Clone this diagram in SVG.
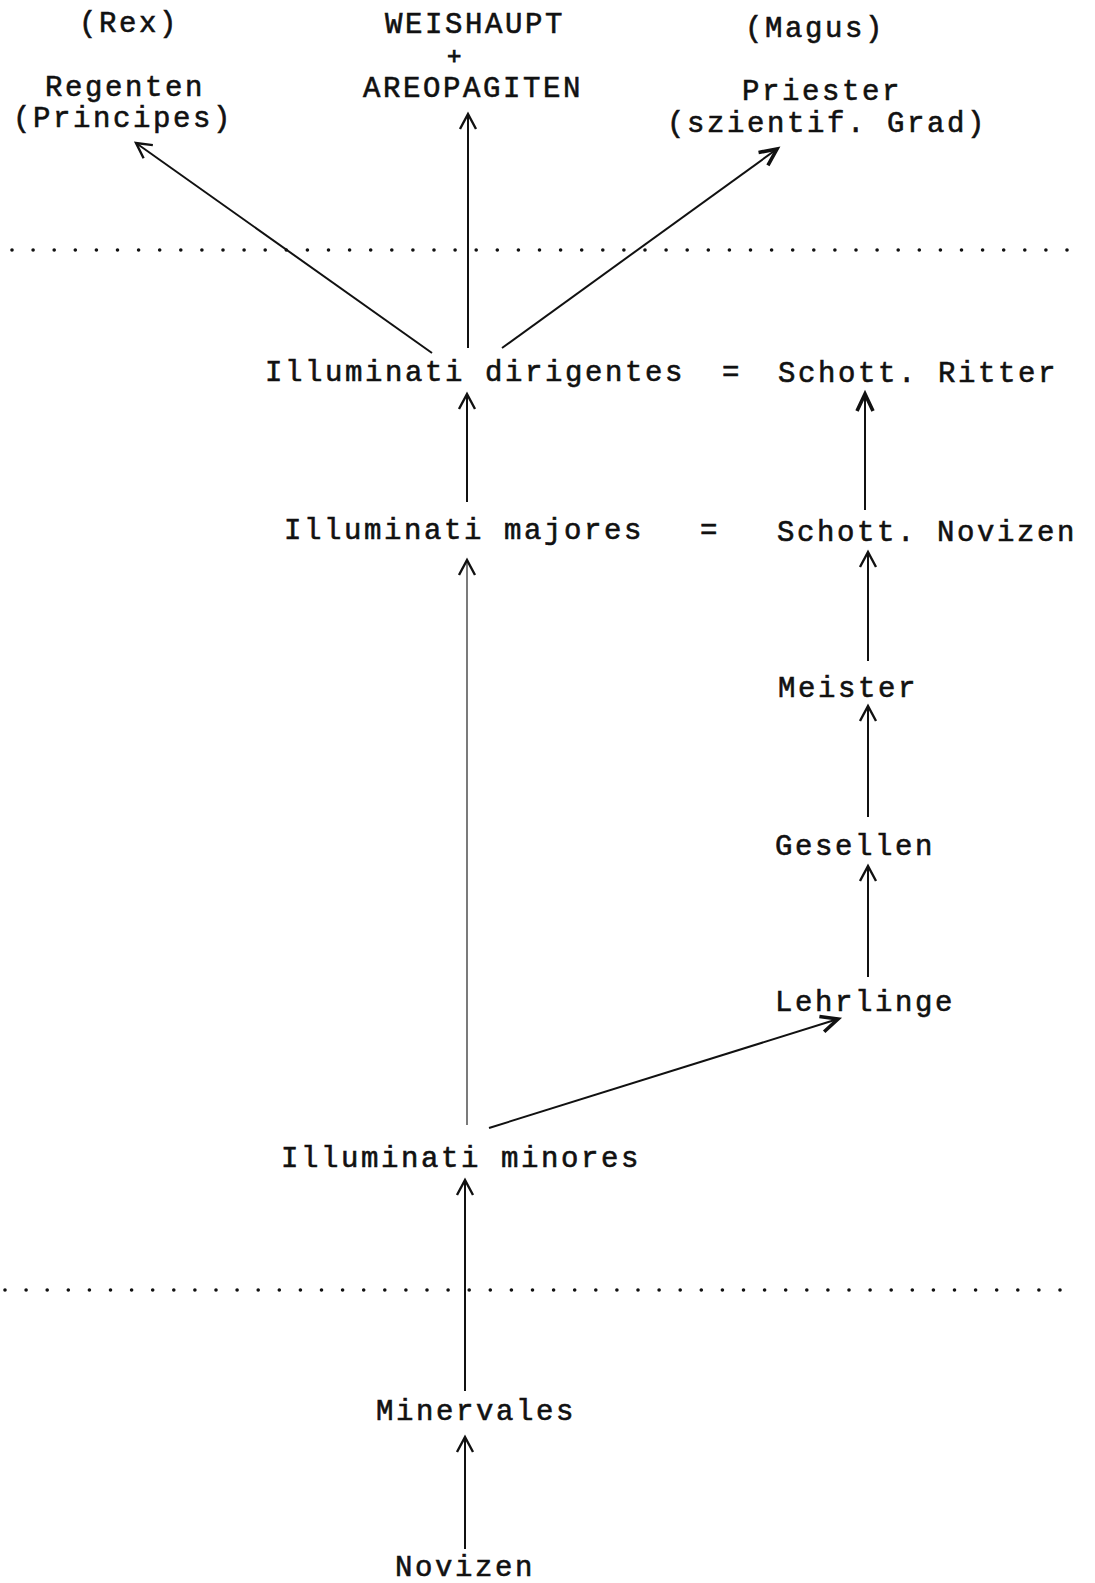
<svg xmlns="http://www.w3.org/2000/svg" width="1095" height="1583" viewBox="0 0 1095 1583">
<style>
text{font-family:"Liberation Mono","Courier New",monospace;font-size:29px;letter-spacing:2.6px;fill:#111;stroke:#111;stroke-width:0.6}
.c{stroke:#111;stroke-width:2;fill:none}
.thin{stroke:#333;stroke-width:1.3;fill:none}
.dots{stroke:#111;stroke-width:3.6;stroke-linecap:round;stroke-dasharray:0 21.1}
</style>
<defs>
<marker id="ah" markerUnits="userSpaceOnUse" markerWidth="30" markerHeight="30" viewBox="-20 -15 30 30" refX="0" refY="0" orient="auto">
<path d="M-15,-8 L0,0 L-15,8" fill="none" stroke="#111" stroke-width="2.4" stroke-linejoin="miter"/>
</marker>
<marker id="ahb" markerUnits="userSpaceOnUse" markerWidth="30" markerHeight="30" viewBox="-20 -15 30 30" refX="0" refY="0" orient="auto">
<path d="M-17,-8 L0,0 L-17,8" fill="none" stroke="#111" stroke-width="3.6" stroke-linejoin="miter"/>
</marker>
</defs>
<rect width="1095" height="1583" fill="#fff"/>
<g id="separators">
<line class="dots" x1="12" y1="250" x2="1068" y2="250"/>
<line class="dots" x1="5" y1="1290" x2="1063" y2="1290"/>
</g>
<g id="connectors">
<line class="c" x1="432" y1="353" x2="136" y2="143" marker-end="url(#ah)"/>
<line class="c" x1="468" y1="348" x2="468" y2="114" marker-end="url(#ah)"/>
<line class="c" x1="502" y1="348" x2="777" y2="149" marker-end="url(#ahb)"/>
<line class="c" x1="467" y1="502" x2="467" y2="394" marker-end="url(#ah)"/>
<line class="c" x1="865" y1="510" x2="865" y2="394" stroke-width="2.6" marker-end="url(#ahb)"/>
<line class="thin" x1="467" y1="1125" x2="467" y2="560" marker-end="url(#ah)"/>
<line class="c" x1="868" y1="661" x2="868" y2="552" marker-end="url(#ah)"/>
<line class="c" x1="868" y1="817" x2="868" y2="706" marker-end="url(#ah)"/>
<line class="c" x1="868" y1="977" x2="868" y2="866" marker-end="url(#ah)"/>
<line class="c" x1="489" y1="1128" x2="838" y2="1019" marker-end="url(#ahb)"/>
<line class="c" x1="465" y1="1391" x2="465" y2="1180" marker-end="url(#ah)"/>
<line class="c" x1="465" y1="1549" x2="465" y2="1437" marker-end="url(#ah)"/>
</g>
<g id="regenten">
<text x="79" y="32">(Rex)</text>
<text x="45" y="96">Regenten</text>
<text x="13" y="127">(Principes)</text>
</g>
<g id="weishaupt">
<text x="385" y="33">WEISHAUPT</text>
<text x="447" y="64" style="font-size:24px;stroke-width:0.9">+</text>
<text x="363" y="97">AREOPAGITEN</text>
</g>
<g id="priester">
<text x="745" y="37">(Magus)</text>
<text x="742" y="100">Priester</text>
<text x="667" y="132">(szientif. Grad)</text>
</g>
<g id="illuminati-dirigentes"><text x="265" y="381">Illuminati dirigentes</text></g>
<g id="eq1"><text x="722" y="381">=</text></g>
<g id="schott-ritter"><text x="778" y="382">Schott. Ritter</text></g>
<g id="illuminati-majores"><text x="284" y="539">Illuminati majores</text></g>
<g id="eq2"><text x="700" y="539">=</text></g>
<g id="schott-novizen"><text x="777" y="541">Schott. Novizen</text></g>
<g id="meister"><text x="778" y="697">Meister</text></g>
<g id="gesellen"><text x="775" y="855">Gesellen</text></g>
<g id="lehrlinge"><text x="775" y="1011">Lehrlinge</text></g>
<g id="illuminati-minores"><text x="281" y="1167">Illuminati minores</text></g>
<g id="minervales"><text x="376" y="1420">Minervales</text></g>
<g id="novizen"><text x="395" y="1576">Novizen</text></g>
</svg>
